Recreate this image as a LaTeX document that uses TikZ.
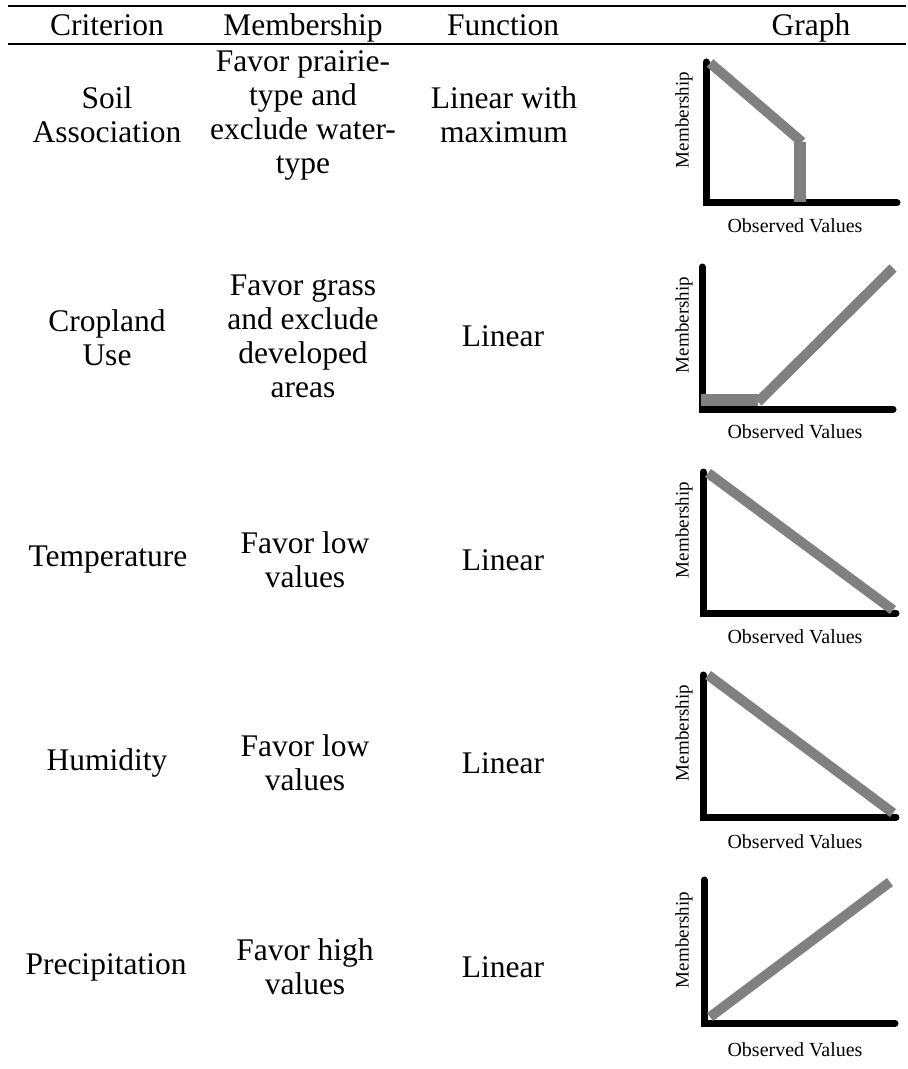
\documentclass[tikz,border=0pt]{standalone}
\usepackage{fontspec}
\setmainfont{Liberation Serif}
\usepackage{xcolor}
\usetikzlibrary{calc}
\definecolor{curvegray}{HTML}{808080}

\begin{document}
\begin{tikzpicture}[x=0.5pt, y=-0.5pt,
	rule/.style={line width=1.4pt},
	axisline/.style={line width=3.5pt, line cap=round},
	curve/.style={line width=5pt, draw=curvegray},
	cell/.style={align=center, inner sep=0pt, font=\fontsize{15.75}{17}\selectfont},
	memlbl/.style={rotate=90, inner sep=0pt, font=\fontsize{9.5}{11}\selectfont},
	obslbl/.style={inner sep=0pt, font=\fontsize{10}{12}\selectfont}]
	\useasboundingbox (0,0) rectangle (908,1069);
		% Draw rules
		\coordinate (ruletopl) at (8,6);
		\coordinate (ruletopr) at (906,6);
		\coordinate (rulemidl) at (8,44);
		\coordinate (rulemidr) at (906,44);
		\draw[rule] (ruletopl) -- (ruletopr);
		\draw[rule] (rulemidl) -- (rulemidr);
		% Header
		\node[cell, anchor=base] (hcrit) at (107,36) {Criterion};
		\node[cell, anchor=base] (hmemb) at (303,36) {Membership};
		\node[cell, anchor=base] (hfunc) at (503,36) {Function};
		\node[cell, anchor=base] (hgraph) at (811,36) {Graph};
		% Table cells
		\node[cell] (crit1) at (107,115) {Soil\\Association};
		\node[cell] (memb1) at (303,115) {Favor prairie-\\type and\\exclude water-\\type};
		\node[cell] (func1) at (504,115) {Linear with\\maximum};
		\node[cell] (crit2) at (107,338) {Cropland\\Use};
		\node[cell] (memb2) at (303,336) {Favor grass\\and exclude\\developed\\areas};
		\node[cell] (func2) at (503,336) {Linear};
		\node[cell] (crit3) at (108,560) {Temperature};
		\node[cell] (memb3) at (305,560) {Favor low\\values};
		\node[cell] (func3) at (503,560) {Linear};
		\node[cell] (crit4) at (107,763) {Humidity};
		\node[cell] (memb4) at (305,763) {Favor low\\values};
		\node[cell] (func4) at (503,763) {Linear};
		\node[cell] (crit5) at (106,967) {Precipitation};
		\node[cell] (memb5) at (305,967) {Favor high\\values};
		\node[cell] (func5) at (503,967) {Linear};
		% Graph axes
		\coordinate (top1) at (706,62);  \coordinate (org1) at (706,203);  \coordinate (end1) at (897,203);
		\coordinate (top2) at (702,267); \coordinate (org2) at (702,409);  \coordinate (end2) at (893,409);
		\coordinate (top3) at (703,472); \coordinate (org3) at (703,613);  \coordinate (end3) at (896,613);
		\coordinate (top4) at (703,675); \coordinate (org4) at (703,817);  \coordinate (end4) at (896,817);
		\coordinate (top5) at (704,880); \coordinate (org5) at (704,1023); \coordinate (end5) at (895,1023);
		\draw[axisline] (top1) -- (org1) -- (end1);
		\draw[axisline] (top2) -- (org2) -- (end2);
		\draw[axisline] (top3) -- (org3) -- (end3);
		\draw[axisline] (top4) -- (org4) -- (end4);
		\draw[axisline] (top5) -- (org5) -- (end5);
		% Membership functions
		\draw[curve] (710,63) -- (802,142);
		\draw[curve, line width=6pt] (800,142) -- (800,202);
		\draw[curve, line width=6pt] (701,400) -- (758,400);
		\draw[curve] (758,402) -- (893,268);
		\draw[curve] (708,473) -- (893,610);
		\draw[curve] (708,675) -- (893,813);
		\draw[curve] (710,1017) -- (890,882);
		% Axis labels
		\node[memlbl] (mlbl1) at (684,120) {Membership};
		\node[memlbl] (mlbl2) at (684,325) {Membership};
		\node[memlbl] (mlbl3) at (684,530) {Membership};
		\node[memlbl] (mlbl4) at (684,733) {Membership};
		\node[memlbl] (mlbl5) at (684,940) {Membership};
		\node[obslbl] (olbl1) at (795,226) {Observed Values};
		\node[obslbl] (olbl2) at (795,432) {Observed Values};
		\node[obslbl] (olbl3) at (795,637) {Observed Values};
		\node[obslbl] (olbl4) at (795,842) {Observed Values};
		\node[obslbl] (olbl5) at (795,1050) {Observed Values};
	\end{tikzpicture}
\end{document}
